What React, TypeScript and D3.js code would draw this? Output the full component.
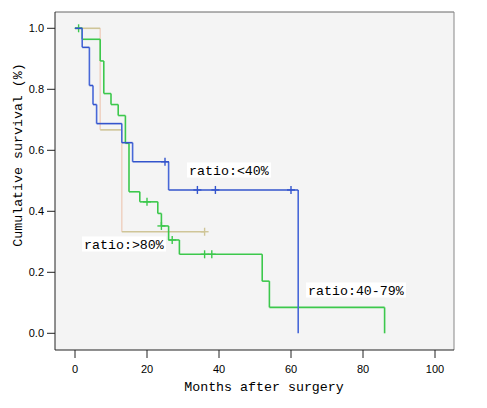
import React from "react";
import * as d3 from "d3";

// ---- Data ----
const xTicks = [0, 20, 40, 60, 80, 100];
const yTicks = [0, 0.2, 0.4, 0.6, 0.8, 1.0];

const lowTimes = [0, 2, 4, 5, 6, 13, 16, 26, 62];
const lowSurv = [1, 0.9375, 0.8125, 0.75, 0.6875, 0.625, 0.5625, 0.47, 0];
const lowCensor = [25, 34, 39, 60];

const midTimes = [0, 2, 7, 8, 10, 12, 14, 15, 18, 23, 24, 26, 29, 52, 54, 86];
const midSurv = [1, 0.964, 0.893, 0.786, 0.75, 0.714, 0.623, 0.464, 0.431, 0.393, 0.352, 0.306, 0.259, 0.171, 0.085, 0];
const midCensor = [1, 20, 24, 27, 36, 38];

const highTimes = [0, 7, 13];
const highSurv = [1, 0.667, 0.333];
const highCensor = [36];

const labels = ["ratio:<40%", "ratio:40-79%", "ratio:>80%"];

// ---- Layout ----
const W = 487;
const H = 408;
const frame = { left: 55, right: 454, top: 12, bottom: 350 };
const x = d3.scaleLinear().domain([0, 100]).range([75, 435]);
const y = d3.scaleLinear().domain([0, 1]).range([333.3, 28.3]);

type Series = {
  times: number[];
  surv: number[];
  censor: number[];
  hColor: string;
  vColor: string;
  label: string;
  lx: number;
  ly: number;
};

const series: Series[] = [
  { times: highTimes, surv: highSurv, censor: highCensor, hColor: "#cfc598", vColor: "#efd3c4", label: labels[2], lx: 84, ly: 244 },
  { times: midTimes, surv: midSurv, censor: midCensor, hColor: "#3cc84c", vColor: "#3cc84c", label: labels[1], lx: 308, ly: 290 },
  { times: lowTimes, surv: lowSurv, censor: lowCensor, hColor: "#3354cc", vColor: "#4868d8", label: labels[0], lx: 189, ly: 170 },
];

function survAt(s: Series, t: number) {
  let v = s.surv[0];
  for (let i = 0; i < s.times.length; i++) if (s.times[i] <= t) v = s.surv[i];
  return v;
}

function segments(s: Series) {
  const end = Math.max(s.times[s.times.length - 1], d3.max(s.censor) ?? 0);
  const hs: [number, number][][] = [];
  const vs: [number, number][][] = [];
  for (let i = 0; i < s.times.length; i++) {
    const t0 = s.times[i];
    const t1 = i + 1 < s.times.length ? s.times[i + 1] : end;
    if (t1 > t0) hs.push([[t0, s.surv[i]], [t1, s.surv[i]]]);
    if (i + 1 < s.times.length) vs.push([[t1, s.surv[i]], [t1, s.surv[i + 1]]]);
  }
  return { hs, vs };
}

const line = d3
  .line<[number, number]>()
  .x((d) => x(d[0]))
  .y((d) => y(d[1]));

export default function App() {
  const tickFont = "'Liberation Sans', Arial, sans-serif";
  const monoFont = "'Liberation Mono', 'DejaVu Sans Mono', monospace";
  return (
    <svg
      width={W}
      height={H}
      style={{ position: "absolute", left: 0, top: 0, background: "#fff" }}
    >
      <rect x={0} y={0} width={W} height={H} fill="#fff" />
      <rect
        x={frame.left}
        y={frame.top}
        width={frame.right - frame.left}
        height={frame.bottom - frame.top}
        fill="#f4f4f4"
      />
      {/* top & right frame */}
      <line x1={frame.left} x2={frame.right} y1={frame.top} y2={frame.top} stroke="#666" />
      <line x1={frame.right} x2={frame.right} y1={frame.top} y2={frame.bottom} stroke="#888" />

      {/* curves */}
      {series.map((s, si) => {
        const { hs, vs } = segments(s);
        return (
          <g key={si} fill="none" strokeWidth={1.6}>
            {vs.map((seg, i) => (
              <path key={"v" + i} d={line(seg) ?? ""} stroke={s.vColor} />
            ))}
            {hs.map((seg, i) => (
              <path key={"h" + i} d={line(seg) ?? ""} stroke={s.hColor} />
            ))}
            {s.censor.map((t, i) => {
              const cx = x(t);
              const cy = y(survAt(s, t));
              return (
                <g key={"c" + i} stroke={s.hColor} strokeWidth={1.4}>
                  <line x1={cx - 4} x2={cx + 4} y1={cy} y2={cy} />
                  <line x1={cx} x2={cx} y1={cy - 4} y2={cy + 4} />
                </g>
              );
            })}
          </g>
        );
      })}

      {/* labels */}
      {series.map((s, si) => {
        const w = s.label.length * 8;
        return (
          <g key={"l" + si}>
            <rect x={s.lx - 2} y={s.ly - 7.5} width={w + 4} height={15} fill="#fff" />
            <text
              x={s.lx}
              y={s.ly + 4.5}
              fontFamily={monoFont}
              fontSize={13.3}
              fill="#000"
            >
              {s.label}
            </text>
          </g>
        );
      })}

      {/* left & bottom axes */}
      <line x1={frame.left} x2={frame.left} y1={frame.top} y2={frame.bottom} stroke="#222" />
      <line x1={frame.left} x2={frame.right} y1={frame.bottom} y2={frame.bottom} stroke="#222" />

      {yTicks.map((t) => (
        <g key={"y" + t}>
          <line x1={frame.left - 8} x2={frame.left} y1={y(t)} y2={y(t)} stroke="#222" />
          <text
            x={frame.left - 11}
            y={y(t)}
            dy="0.35em"
            textAnchor="end"
            fontFamily={tickFont}
            fontSize={11}
            fill="#000"
          >
            {t.toFixed(1)}
          </text>
        </g>
      ))}
      {xTicks.map((t) => (
        <g key={"x" + t}>
          <line x1={x(t)} x2={x(t)} y1={frame.bottom} y2={frame.bottom + 8} stroke="#222" />
          <text
            x={x(t)}
            y={frame.bottom + 19}
            dy="0.35em"
            textAnchor="middle"
            fontFamily={tickFont}
            fontSize={11}
            fill="#000"
          >
            {t}
          </text>
        </g>
      ))}

      <text
        x={264}
        y={391}
        textAnchor="middle"
        fontFamily={monoFont}
        fontSize={13.3}
        fill="#000"
      >
        Months after surgery
      </text>
      <text
        transform="translate(22,155) rotate(-90)"
        textAnchor="middle"
        fontFamily={monoFont}
        fontSize={13.3}
        fill="#000"
      >
        Cumulative survival (%)
      </text>
    </svg>
  );
}
